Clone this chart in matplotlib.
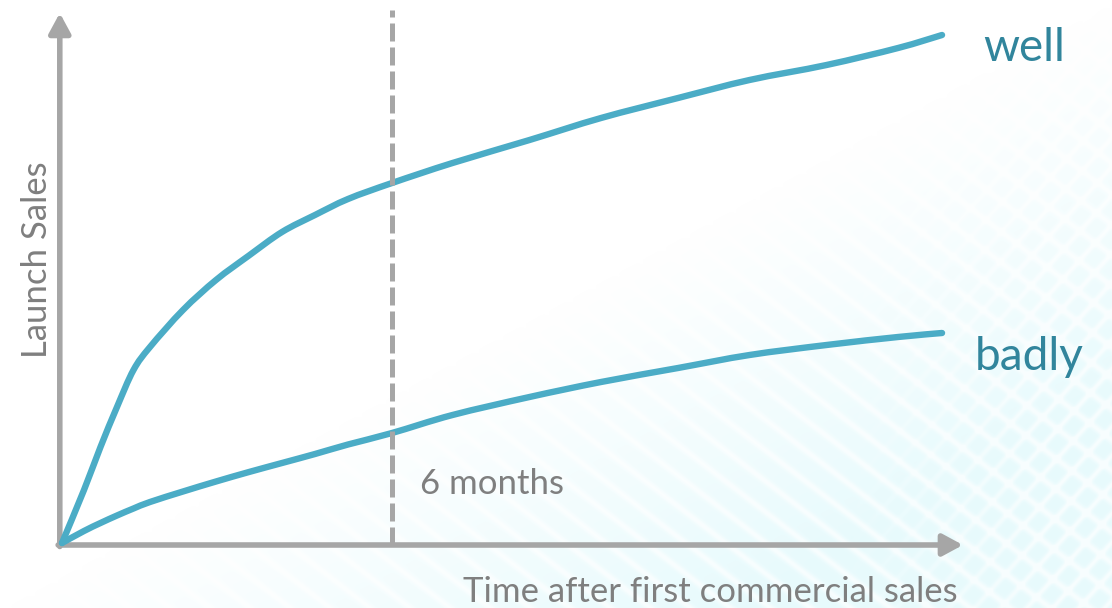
import numpy as np
import matplotlib
matplotlib.use("Agg")
import matplotlib.pyplot as plt
from matplotlib.path import Path
from matplotlib.patches import PathPatch

# months after first commercial sales
months = [0, 0.4, 0.7, 1.0, 1.3, 1.6, 2.2, 2.8, 3.4, 4.0, 4.6, 5.2, 6.0,
          7.1, 8.5, 9.8, 11.2, 12.5, 13.9, 15.2, 16.0]
well = [0, 10.6, 19.2, 27.2, 34.6, 39.2, 46.6, 52.6, 57.5, 62.2, 65.6, 68.8, 72.0,
        76.0, 80.6, 85.0, 89.0, 92.6, 95.6, 99.0, 101.6]
badly = [0, 2.4, 4.0, 5.5, 6.9, 8.2, 10.3, 12.3, 14.2, 16.0, 17.8, 19.7, 22.0,
         25.6, 29.2, 32.2, 35.0, 37.6, 39.6, 41.2, 42.0]
marker_month = 6
labels = ["well", "badly"]

curve_col = "#4BACC6"
label_col = "#31859C"
grey = "#A6A6A6"
text_grey = "#7F7F7F"
plt.rcParams['font.family'] = ['Lato', 'DejaVu Sans']


def smooth_path(x, y):
    # Catmull-Rom through the points, as cubic bezier segments
    p = np.column_stack([x, y]).astype(float)
    verts = [p[0]]
    codes = [Path.MOVETO]
    n = len(p)
    for i in range(n - 1):
        p0 = p[i - 1] if i > 0 else p[i]
        p1, p2 = p[i], p[i + 1]
        p3 = p[i + 2] if i + 2 < n else p[i + 1]
        c1 = p1 + (p2 - p0) / 6
        c2 = p2 - (p3 - p1) / 6
        verts += [c1, c2, p2]
        codes += [Path.CURVE4] * 3
    return Path(verts, codes)


fig = plt.figure(figsize=(11.12, 6.08), dpi=100)

# faint cyan backdrop with white diagonal stripes, bottom right
bg = fig.add_axes([0, 0, 1, 1])
H, W = 608, 1112
yy, xx = np.mgrid[0:H, 0:W]
fade = np.clip((xx / W + yy / H - 1.0) / 0.65, 0, 1)
s1 = np.abs(np.sin((xx - 1.3 * yy) * np.pi / 40)) ** 10
s2 = np.abs(np.sin((xx + 0.9 * yy) * np.pi / 26)) ** 10 * np.clip((xx - 850) / 200, 0, 1)
stripes = np.clip(s1 + s2, 0, 1)
rgba = np.zeros((H, W, 4))
rgba[..., 0] = 0.88
rgba[..., 1] = 0.98
rgba[..., 2] = 0.99
rgba[..., 3] = fade * (0.75 - 0.5 * stripes)
bg.imshow(rgba, extent=[0, W, H, 0], aspect='auto')
bg.set_xlim(0, W)
bg.set_ylim(H, 0)
bg.axis('off')

ax = fig.add_axes([0, 0, 1, 1])
ax.patch.set_alpha(0)
ax.set_xlim(-1.127, 19.09)
ax.set_ylim(-13.0, 108.6)
ax.axis('off')

# axes arrows
x0, y0 = -0.04, -0.4
arrow = dict(arrowstyle='-|>,head_length=12,head_width=6.5', mutation_scale=1,
             lw=4, color=grey, shrinkA=0, shrinkB=0)
ax.annotate('', xy=(x0, 106.0), xytext=(x0, y0 - 0.3), arrowprops=arrow)
ax.annotate('', xy=(16.38, y0), xytext=(x0 - 0.03, y0), arrowprops=arrow)

for series in (well, badly):
    ax.add_patch(PathPatch(smooth_path(months, series), fill=False, edgecolor=curve_col,
                           lw=4.6, capstyle='round', joinstyle='round', zorder=3))

ax.plot([marker_month, marker_month], [y0, 106.6], color=grey, lw=3.6,
        dashes=(3.6, 1.2), dash_capstyle='butt', zorder=4)

ax.text(months[-1] + 1.5, well[-1] - 2.6, labels[0], color=label_col, fontsize=33,
        ha='center', va='center')
ax.text(months[-1] + 1.58, badly[-1] - 4.8, labels[1], color=label_col, fontsize=33,
        ha='center', va='center')
ax.text(marker_month + 0.5, 11.8, "6 months", color=text_grey, fontsize=25,
        ha='left', va='center')
ax.text(-0.45, 56.6, "Launch Sales", color=text_grey, fontsize=25, rotation=90,
        ha='center', va='center')
ax.text(7.29, -9.8, "Time after first commercial sales", color=text_grey, fontsize=25,
        ha='left', va='center')

fig.savefig("out.png", dpi=100)
